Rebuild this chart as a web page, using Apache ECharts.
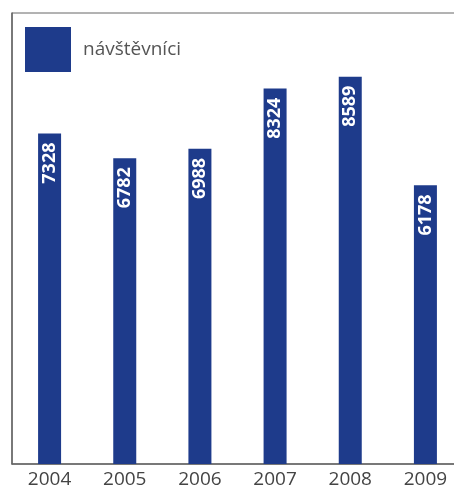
<!DOCTYPE html>
<html>
<head>
<meta charset="utf-8">
<script src="https://cdn.jsdelivr.net/npm/echarts@6/dist/echarts.min.js"></script>
<style>
  html, body { margin: 0; padding: 0; background: #fff; }
  #chart { width: 454px; height: 489px; }
</style>
</head>
<body>
<div id="chart"></div>
<script>
// Visitor counts per year
const years = ['2004', '2005', '2006', '2007', '2008', '2009'];
const visitors = [7328, 6782, 6988, 8324, 8589, 6178];
const seriesName = 'návštěvníci';

const chart = echarts.init(document.getElementById('chart'));
chart.setOption({
  animation: false,
  backgroundColor: '#ffffff',
  grid: {
    left: 12, top: 13, width: 451, height: 451,
    outerBoundsMode: 'none',
    containLabel: false,
    show: true, borderColor: '#666', borderWidth: 1
  },
  legend: {
    show: true,
    left: 20, top: 22,
    itemWidth: 46, itemHeight: 45,
    icon: 'rect',
    textStyle: { fontFamily: 'Open Sans', fontSize: 19, color: '#555', padding: [0, 0, 0, 7] },
    data: [seriesName]
  },
  xAxis: {
    type: 'category',
    data: years,
    axisLine: { lineStyle: { color: '#666', width: 1.5 } },
    axisTick: { show: false },
    axisLabel: { fontFamily: 'Open Sans', fontSize: 19, color: '#444', margin: 6 }
  },
  yAxis: {
    type: 'value',
    min: 0, max: 10000,
    axisLine: { show: true, lineStyle: { color: '#666', width: 1.5 } },
    axisTick: { show: false },
    axisLabel: { show: false },
    splitLine: { show: false }
  },
  series: [{
    name: seriesName,
    type: 'bar',
    data: visitors,
    barWidth: 23,
    itemStyle: { color: '#1e3b8b' },
    label: {
      show: true,
      position: 'insideTop',
      rotate: 90,
      align: 'right',
      verticalAlign: 'middle',
      distance: 9,
      color: '#fff',
      fontFamily: 'Open Sans',
      fontWeight: 'bold',
      fontSize: 18
    }
  }]
});
</script>
</body>
</html>
